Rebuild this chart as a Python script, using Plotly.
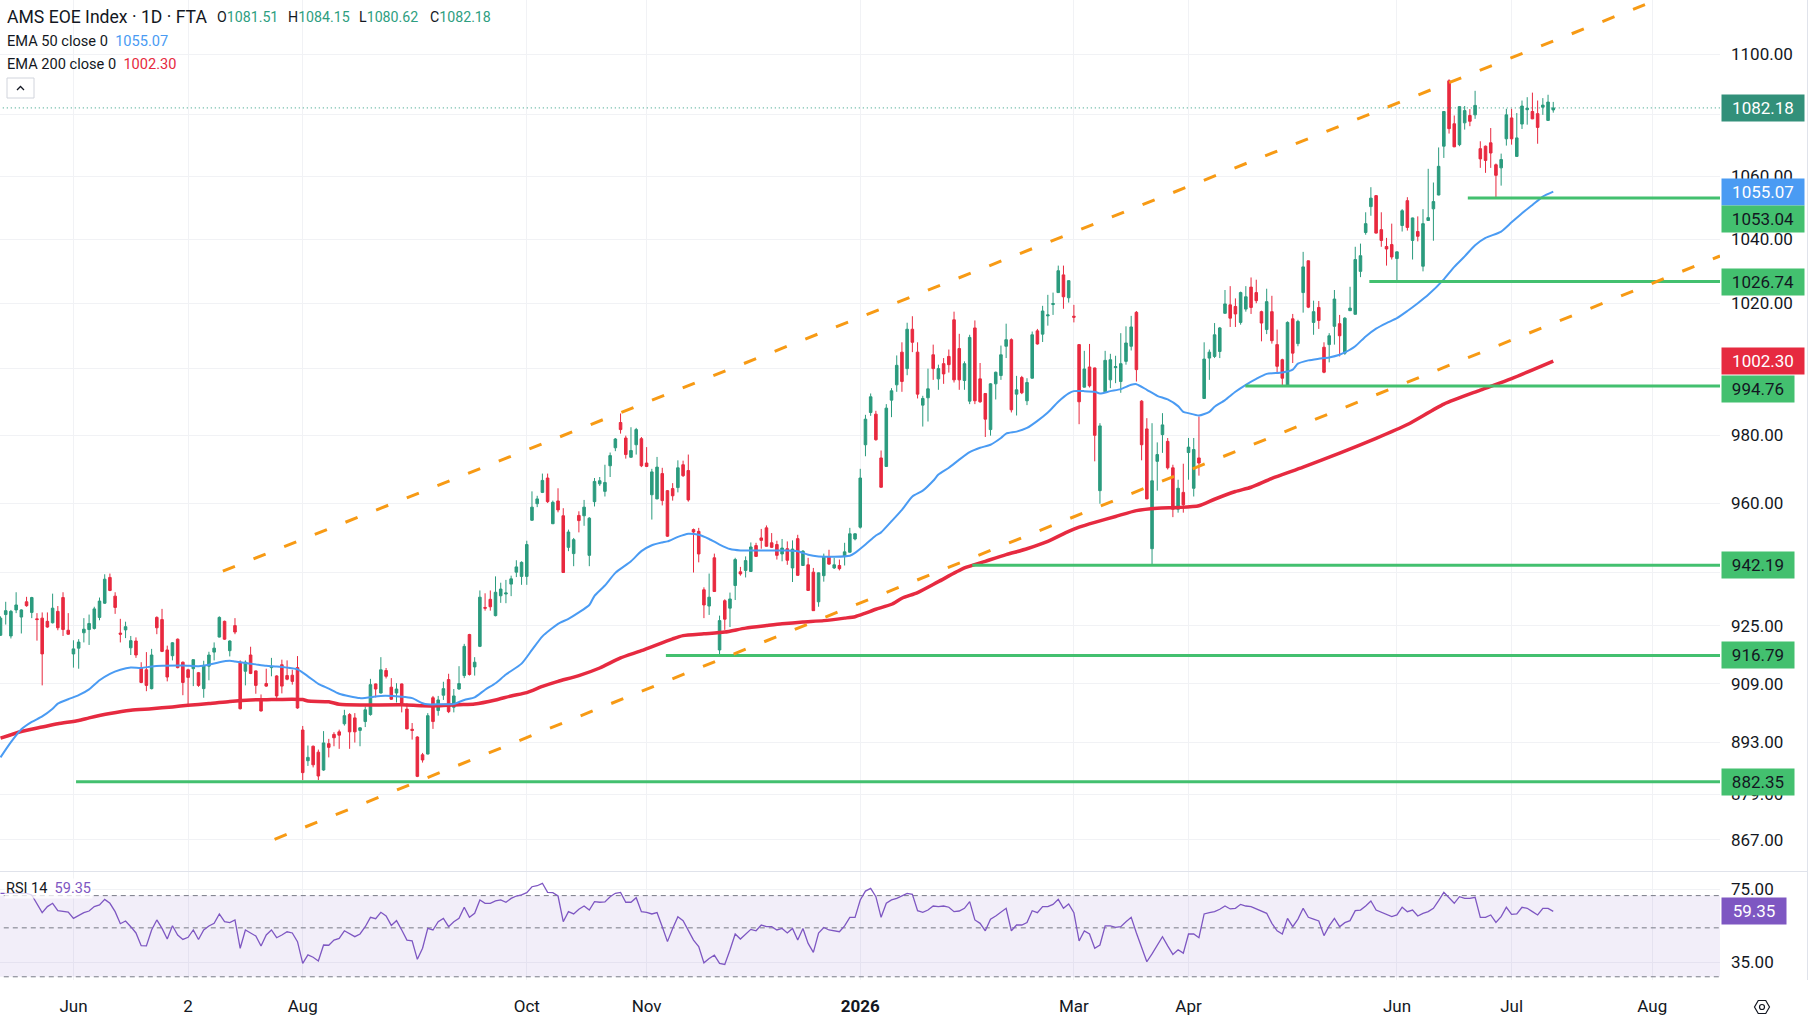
import math
import plotly.graph_objects as go

# ---------------- data ----------------
open_ = [
    922.4, 928.2, 922.2, 929.5, 927.5, 931.8, 928.8, 927.0, 927.2, 926.3,
    925.9, 929.1, 933.0, 923.8, 917.2, 918.8, 923.1, 924.0, 924.3, 927.4,
    931.4, 938.7, 933.4, 923.0, 923.9, 918.9, 920.8, 913.3, 912.8, 907.6,
    927.4, 926.8, 918.3, 916.7, 921.3, 914.9, 912.8, 913.1, 912.0, 907.6,
    913.8, 917.7, 921.9, 926.3, 918.1, 925.1, 914.9, 912.4, 916.9, 912.5,
    904.7, 909.0, 913.4, 911.1, 914.2, 911.2, 911.3, 913.4, 896.3, 888.0,
    891.9, 890.3, 885.5, 892.6, 895.1, 895.8, 898.0, 900.5, 899.6, 896.2,
    898.6, 900.5, 908.9, 906.4, 912.6, 908.0, 906.4, 908.9, 902.0, 896.5,
    894.4, 889.6, 889.8, 905.1, 901.6, 905.8, 910.1, 902.5, 907.5, 911.2,
    922.6, 913.6, 919.3, 930.2, 932.5, 927.9, 933.5, 934.0, 936.8, 940.2,
    939.0, 939.0, 955.1, 959.9, 963.2, 967.4, 954.1, 960.7, 956.4, 947.3,
    945.5, 956.5, 956.4, 945.0, 960.5, 965.7, 963.5, 971.0, 976.3, 983.8,
    979.2, 973.5, 977.2, 979.0, 971.8, 962.5, 961.3, 968.7, 963.7, 964.3,
    964.6, 971.3, 969.6, 952.4, 951.9, 935.2, 930.6, 944.3, 918.3, 932.1,
    930.0, 936.4, 940.3, 940.7, 940.4, 947.8, 950.0, 952.9, 948.6, 948.1,
    945.4, 946.9, 941.4, 949.8, 942.1, 942.3, 940.2, 931.8, 939.2, 944.6,
    941.4, 942.1, 944.7, 945.9, 949.7, 953.1, 977.2, 986.8, 986.3, 973.3,
    970.8, 990.5, 995.1, 1005.0, 1000.0, 1012.0, 1005.0, 989.0, 991.2, 1004.2,
    996.9, 1001.5, 1003.7, 1014.9, 1006.1, 996.4, 990.2, 1012.4, 996.9, 992.5,
    981.7, 995.4, 997.9, 1006.8, 1008.8, 992.3, 997.3, 990.3, 997.1, 1011.5,
    1010.5, 1016.1, 1019.6, 1023.3, 1028.8, 1021.7, 1016.0, 1007.3, 994.4, 1000.5,
    1000.2, 963.7, 993.0, 996.6, 1000.3, 996.1, 1002.2, 1006.8, 1017.2, 990.2,
    981.9, 946.9, 972.3, 980.2, 978.2, 970.4, 958.3, 963.2, 974.9, 964.4,
    973.3, 991.0, 1003.2, 1003.7, 1005.2, 1016.9, 1019.5, 1019.0, 1014.1, 1018.2,
    1025.0, 1023.3, 1017.4, 1011.9, 1017.4, 1007.3, 1002.7, 994.8, 1015.2, 1007.6,
    1023.3, 1033.2, 1014.1, 1018.7, 1006.5, 1007.3, 1012.9, 1013.7, 1004.7, 1017.7,
    1016.6, 1029.9, 1042.1, 1050.3, 1053.8, 1043.0, 1037.7, 1038.3, 1033.9, 1044.3,
    1052.2, 1039.6, 1042.4, 1031.5, 1045.9, 1049.6, 1054.0, 1069.7, 1091.1, 1077.0,
    1070.2, 1077.3, 1079.7, 1079.9, 1068.9, 1069.7, 1070.8, 1063.7, 1062.7, 1072.1,
    1078.9, 1066.4, 1076.9, 1081.6, 1081.0, 1080.3, 1082.4, 1078.1, 1081.51]

high_ = [
    927.7, 931.8, 929.5, 934.5, 929.7, 933.2, 933.2, 928.6, 928.8, 928.8,
    934.1, 930.6, 934.5, 928.6, 921.0, 921.3, 927.2, 928.2, 930.4, 933.0,
    939.6, 939.8, 934.5, 927.0, 926.2, 922.2, 921.8, 914.9, 917.7, 918.6,
    927.7, 929.8, 919.5, 920.5, 921.5, 915.1, 913.1, 915.7, 912.2, 915.3,
    917.8, 920.4, 927.7, 926.5, 921.0, 927.2, 915.4, 915.4, 919.2, 912.6,
    906.0, 913.1, 916.1, 911.3, 915.6, 915.4, 912.8, 916.6, 897.4, 892.1,
    892.1, 891.0, 896.0, 893.9, 895.7, 896.4, 901.8, 900.9, 900.9, 897.0,
    902.7, 910.3, 909.0, 916.3, 913.3, 910.5, 909.1, 909.0, 903.6, 898.2,
    894.6, 890.1, 900.9, 905.6, 905.6, 909.5, 911.7, 907.5, 913.8, 920.0,
    922.8, 916.3, 935.0, 934.2, 935.0, 939.0, 937.2, 938.0, 939.2, 943.6,
    943.3, 949.2, 963.5, 962.2, 968.7, 968.7, 960.8, 964.4, 958.6, 952.4,
    950.0, 957.7, 961.0, 956.0, 967.4, 967.7, 971.3, 974.9, 979.2, 986.5,
    979.9, 982.4, 982.2, 979.5, 976.5, 970.1, 973.6, 970.4, 963.9, 965.9,
    972.6, 972.5, 974.3, 952.7, 952.9, 935.9, 939.8, 945.5, 927.9, 932.5,
    934.4, 944.3, 941.7, 944.7, 948.7, 948.6, 952.6, 953.6, 951.4, 949.2,
    949.7, 949.0, 949.3, 950.9, 946.5, 944.3, 941.4, 940.1, 945.5, 946.6,
    944.3, 943.8, 948.6, 952.9, 951.3, 970.1, 986.1, 992.5, 987.3, 975.5,
    989.3, 994.1, 1004.0, 1008.0, 1014.0, 1016.0, 1008.0, 991.8, 1000.0, 1007.3,
    1001.2, 1003.2, 1005.8, 1017.4, 1010.6, 1002.2, 1010.3, 1014.7, 1001.7, 992.6,
    995.6, 999.1, 1007.0, 1013.7, 1009.2, 997.8, 997.8, 997.1, 1011.3, 1012.1,
    1019.2, 1022.6, 1023.3, 1031.7, 1031.7, 1027.1, 1019.5, 1007.4, 1005.4, 1007.5,
    1000.3, 983.6, 1005.4, 1004.5, 1003.9, 1010.8, 1012.9, 1016.1, 1017.6, 990.5,
    985.1, 983.6, 977.9, 986.6, 979.2, 971.3, 966.9, 971.6, 979.2, 979.2,
    985.6, 1008.0, 1005.8, 1013.9, 1012.7, 1024.1, 1025.3, 1021.5, 1023.6, 1025.3,
    1028.0, 1027.3, 1017.7, 1024.5, 1022.3, 1011.9, 1003.0, 1014.4, 1016.7, 1014.9,
    1036.0, 1033.3, 1020.8, 1020.7, 1008.0, 1010.8, 1024.1, 1016.4, 1015.7, 1025.1,
    1037.6, 1038.6, 1048.5, 1056.5, 1054.0, 1048.5, 1040.4, 1044.9, 1036.1, 1049.5,
    1053.3, 1046.8, 1047.2, 1049.5, 1062.4, 1058.0, 1069.3, 1081.1, 1091.6, 1079.7,
    1082.7, 1082.8, 1081.8, 1087.8, 1071.3, 1069.9, 1075.6, 1064.1, 1067.3, 1081.9,
    1081.9, 1080.5, 1084.6, 1085.7, 1087.2, 1084.6, 1085.4, 1086.5, 1084.15]

low_ = [
    922.2, 925.4, 921.5, 928.6, 922.9, 930.4, 927.2, 920.9, 908.5, 924.5,
    925.7, 923.8, 922.2, 922.5, 913.4, 913.1, 920.4, 919.7, 924.0, 926.6,
    931.2, 934.8, 928.4, 920.4, 921.6, 916.9, 916.1, 909.1, 906.9, 907.4,
    922.7, 917.7, 909.6, 915.4, 913.2, 905.8, 903.1, 908.3, 908.1, 905.1,
    909.9, 915.4, 921.8, 921.1, 916.5, 922.7, 901.9, 908.5, 911.6, 906.2,
    901.3, 908.1, 911.0, 904.2, 906.3, 909.9, 908.7, 902.1, 882.8, 886.6,
    886.2, 882.8, 885.3, 888.9, 891.9, 891.2, 897.5, 891.2, 892.9, 891.9,
    897.1, 900.2, 905.2, 906.3, 910.4, 904.5, 903.8, 901.1, 896.5, 893.7,
    883.6, 887.5, 889.7, 896.6, 900.2, 904.5, 900.9, 901.1, 907.3, 910.5,
    911.2, 911.2, 919.1, 929.3, 929.3, 927.7, 931.5, 931.4, 933.4, 938.8,
    936.6, 936.6, 955.0, 958.9, 963.0, 960.1, 954.0, 957.4, 940.0, 946.2,
    941.9, 951.6, 953.5, 941.9, 959.1, 965.1, 962.0, 967.7, 975.3, 980.5,
    973.1, 973.4, 974.3, 970.6, 970.6, 955.3, 961.2, 959.4, 950.3, 960.8,
    963.2, 967.7, 960.5, 940.1, 943.0, 927.2, 928.1, 934.6, 916.8, 923.9,
    924.7, 932.3, 939.2, 938.7, 940.3, 944.6, 946.9, 947.5, 947.1, 943.8,
    943.3, 942.3, 937.4, 939.2, 942.0, 934.9, 929.2, 930.4, 937.5, 942.3,
    941.1, 940.7, 942.1, 945.8, 949.3, 952.7, 973.8, 985.8, 978.4, 964.6,
    970.7, 985.4, 993.0, 993.0, 998.0, 1005.0, 991.0, 982.6, 984.1, 996.6,
    993.6, 995.4, 998.8, 995.8, 993.6, 993.6, 989.3, 989.3, 989.7, 979.5,
    979.9, 990.7, 996.6, 1003.2, 986.8, 985.9, 992.3, 989.0, 997.0, 1007.3,
    1008.1, 1013.1, 1016.4, 1023.2, 1018.3, 1020.2, 1014.1, 983.3, 994.3, 994.3,
    972.3, 959.9, 992.9, 994.1, 995.6, 992.7, 1001.2, 1005.5, 996.1, 972.6,
    961.2, 942.2, 963.7, 974.8, 969.9, 956.0, 957.3, 957.3, 966.9, 962.0,
    968.1, 990.9, 996.6, 1003.2, 1003.2, 1016.8, 1012.7, 1012.7, 1013.4, 1017.4,
    1016.7, 1020.0, 1008.3, 1010.5, 1007.6, 998.8, 994.8, 994.76, 1001.7, 1006.8,
    1017.1, 1018.5, 1010.3, 1012.1, 998.6, 1001.9, 1007.3, 1003.7, 1004.2, 1017.6,
    1016.5, 1028.1, 1041.4, 1047.4, 1041.8, 1037.6, 1031.7, 1033.6, 1026.74, 1042.4,
    1042.7, 1033.6, 1039.3, 1029.9, 1045.8, 1039.5, 1053.9, 1065.9, 1073.8, 1069.4,
    1069.7, 1075.1, 1076.2, 1078.6, 1062.7, 1061.1, 1062.7, 1053.04, 1057.0, 1069.9,
    1070.2, 1066.3, 1075.3, 1076.7, 1078.5, 1070.5, 1079.9, 1077.9, 1080.62]

close_ = [
    927.2, 929.3, 929.1, 930.9, 929.5, 930.7, 933.0, 926.8, 917.2, 924.7,
    930.0, 924.5, 924.0, 922.7, 918.6, 920.5, 924.1, 925.7, 929.8, 932.0,
    938.2, 935.0, 930.2, 922.7, 924.8, 920.9, 916.9, 909.3, 908.5, 916.9,
    924.5, 917.9, 910.8, 920.3, 913.4, 909.3, 910.7, 915.6, 908.5, 914.0,
    916.9, 918.8, 927.4, 921.3, 920.8, 923.3, 902.1, 914.9, 911.8, 908.5,
    901.5, 908.3, 913.7, 905.6, 908.3, 910.2, 909.6, 902.3, 884.8, 888.9,
    886.9, 883.9, 892.8, 891.6, 894.2, 894.9, 900.2, 895.8, 895.8, 896.9,
    901.8, 908.7, 907.5, 912.8, 911.0, 904.7, 907.5, 903.6, 896.6, 896.2,
    883.8, 888.2, 900.2, 898.6, 904.5, 907.6, 901.3, 905.6, 909.0, 919.3,
    911.5, 914.9, 933.1, 930.0, 930.4, 934.5, 935.4, 934.3, 938.3, 941.7,
    943.0, 948.1, 958.9, 961.3, 966.7, 960.5, 960.3, 958.1, 940.1, 951.7,
    949.5, 955.0, 958.9, 955.7, 966.4, 966.6, 966.1, 974.0, 978.9, 981.7,
    974.3, 975.5, 981.7, 971.0, 970.8, 969.2, 970.6, 960.8, 950.5, 962.2,
    970.4, 968.1, 961.0, 951.7, 945.4, 930.9, 933.1, 934.7, 926.5, 926.9,
    932.6, 943.8, 939.7, 943.5, 947.4, 944.7, 949.3, 947.6, 947.3, 945.0,
    947.1, 943.6, 946.8, 939.3, 946.2, 935.0, 929.3, 940.0, 944.7, 942.5,
    942.3, 941.2, 946.0, 951.2, 951.2, 967.4, 984.8, 991.5, 978.7, 964.7,
    988.1, 993.3, 1001.0, 996.1, 1012.0, 1008.0, 992.3, 991.0, 993.9, 1000.0,
    1000.0, 998.4, 1001.2, 996.6, 996.6, 1001.5, 1009.5, 990.3, 990.0, 984.8,
    995.4, 998.9, 1004.2, 1008.8, 987.6, 993.6, 992.7, 995.8, 1010.3, 1007.5,
    1017.6, 1016.4, 1019.9, 1030.1, 1022.0, 1027.0, 1015.7, 990.0, 999.9, 994.8,
    980.0, 982.8, 1002.5, 1002.7, 1000.6, 1001.5, 1007.8, 1012.7, 999.7, 977.2,
    961.3, 966.6, 974.3, 983.1, 970.4, 958.3, 964.4, 959.6, 976.5, 975.8,
    971.8, 1002.9, 1005.0, 1010.3, 1012.4, 1019.8, 1015.4, 1016.7, 1023.3, 1022.0,
    1018.7, 1020.8, 1013.9, 1020.5, 1008.5, 1000.7, 997.1, 1014.1, 1004.7, 1014.4,
    1031.3, 1018.8, 1017.4, 1014.7, 998.9, 1010.0, 1021.3, 1010.0, 1015.4, 1018.5,
    1033.6, 1034.8, 1044.9, 1053.0, 1041.9, 1039.6, 1036.9, 1034.4, 1036.0, 1049.0,
    1043.7, 1046.7, 1040.9, 1044.9, 1046.8, 1051.9, 1063.2, 1081.0, 1075.4, 1069.5,
    1082.6, 1081.3, 1077.8, 1083.0, 1065.6, 1065.1, 1067.5, 1060.3, 1065.4, 1079.9,
    1072.1, 1072.4, 1082.8, 1082.1, 1078.6, 1075.8, 1083.1, 1084.1, 1082.18]

# EMA 50 / EMA 200 (bar number, value)
ema50_bar = [0, 2, 4, 6, 8, 10, 11, 13, 15, 17, 19, 21, 23, 25, 27, 29, 31, 35, 38, 40,
             42, 44, 45, 47, 49, 51, 53, 55, 57, 59, 61, 63, 65, 69, 73, 77, 79, 81, 82, 84,
             87, 89, 91, 93, 95, 97, 100, 102, 104, 107, 109, 111, 113, 114, 116, 118, 121, 123, 125, 127,
             128, 130, 132, 134, 136, 138, 140, 142, 148, 151, 153, 155, 157, 160, 163, 164, 166, 168, 169, 171,
             173, 175, 177, 179, 180, 182, 184, 186, 188, 190, 192, 193, 195, 197, 199, 201, 203, 205, 206, 208,
             210, 211, 213, 215, 217, 218, 220, 222, 224, 226, 227, 228, 230, 232, 233, 235, 237, 239, 241, 243,
             246, 248, 249, 251, 253, 255, 257, 258, 260, 262, 264, 266, 268, 270, 272, 274, 277, 279, 281, 283,
             285, 288, 290, 292, 294, 296, 298]
ema50_val = [888.9, 893.0, 896.5, 898.5, 900.0, 902.1, 903.5, 904.7, 905.8, 907.4, 909.9, 911.7, 912.8, 913.4, 913.3, 913.7, 913.9, 914.0, 913.8, 914.2,
             914.9, 915.3, 915.1, 914.7, 914.3, 913.9, 913.7, 913.4, 912.9, 911.0, 908.9, 907.6, 906.2, 905.0, 905.6, 905.4, 905.0, 903.6, 903.3, 903.3,
             903.4, 904.5, 905.2, 907.3, 909.1, 911.5, 914.5, 918.3, 922.1, 925.6, 927.0, 928.8, 930.9, 933.5, 936.4, 940.0, 943.3, 946.2, 947.9, 948.7,
             949.0, 950.3, 951.2, 950.9, 949.7, 948.1, 946.8, 946.4, 946.4, 946.4, 946.2, 945.2, 944.7, 944.6, 944.9, 945.7, 948.1, 950.7, 951.6, 954.8,
             958.1, 962.0, 963.7, 966.6, 968.4, 970.4, 972.8, 975.0, 976.3, 977.2, 979.2, 980.5, 981.1, 982.2, 984.3, 986.8, 990.0, 992.5, 993.2, 993.2,
             993.0, 992.5, 993.2, 993.8, 995.1, 995.3, 993.6, 991.8, 990.7, 988.7, 987.0, 986.6, 985.9, 987.0, 988.5, 990.5, 993.0, 995.1, 996.9, 998.4,
             998.8, 999.7, 1001.5, 1002.5, 1003.0, 1003.4, 1004.2, 1004.9, 1006.8, 1009.8, 1012.2, 1013.9, 1015.4, 1017.6, 1020.0, 1022.6, 1027.4, 1031.3, 1034.6, 1038.1,
             1040.4, 1042.4, 1045.3, 1048.2, 1050.8, 1053.5, 1055.07]

ema200_bar = [0, 4, 8, 11, 15, 17, 21, 25, 29, 33, 36, 40, 44, 48, 52, 56, 58, 59, 63, 65,
              69, 77, 81, 84, 88, 91, 95, 98, 101, 104, 107, 111, 115, 119, 123, 129, 131, 135, 139, 143,
              147, 150, 154, 158, 162, 164, 166, 168, 171, 173, 176, 180, 185, 189, 193, 197, 201, 205, 207, 210,
              214, 218, 222, 226, 230, 233, 237, 240, 244, 250, 257, 264, 270, 277, 284, 290, 298]
ema200_val = [894.1, 895.9, 897.1, 898.0, 898.9, 899.6, 900.8, 901.7, 902.1, 902.6, 903.05, 903.5, 904.1, 904.5, 904.6, 904.7, 904.6, 904.2, 904.0, 903.3,
              903.1, 903.2, 902.9, 902.9, 903.2, 903.4, 904.5, 905.6, 906.5, 908.2, 909.6, 911.2, 913.3, 916.1, 918.1, 921.4, 922.3, 922.8, 923.3, 924.4,
              925.1, 925.6, 926.1, 926.5, 927.2, 927.6, 928.6, 929.7, 931.1, 932.8, 934.4, 937.5, 941.4, 943.3, 945.2, 946.9, 949.0, 951.9, 953.1, 954.5,
              956.2, 957.9, 958.6, 958.8, 959.3, 961.2, 963.45, 964.7, 967.3, 970.6, 974.7, 979.1, 983.2, 989.3, 993.5, 997.0, 1002.3]

rsi = [
    71.7, 71.7, 71.7, 71.4, 71.4, 71.7, 70.5, 64.6, 58.6, 62.4,
    64.6, 59.8, 59.6, 59.0, 55.2, 56.8, 58.6, 59.6, 62.4, 63.5,
    67.3, 64.6, 59.2, 52.2, 53.7, 50.6, 47.4, 41.5, 41.4, 48.9,
    54.3, 49.7, 44.5, 51.1, 46.4, 44.3, 45.3, 48.9, 44.3, 48.9,
    51.0, 52.4, 57.8, 53.3, 52.8, 54.3, 40.4, 48.9, 47.4, 45.9,
    41.4, 46.4, 48.9, 45.1, 46.4, 48.0, 47.4, 43.3, 34.5, 37.7,
    36.8, 35.4, 41.8, 41.7, 44.0, 44.8, 48.5, 46.9, 45.6, 46.9,
    50.6, 55.8, 55.0, 58.8, 56.6, 51.3, 53.9, 48.9, 44.0, 43.7,
    36.0, 40.4, 49.7, 48.9, 53.3, 55.2, 50.6, 53.3, 55.2, 62.0,
    55.8, 58.2, 66.9, 64.6, 64.6, 66.2, 66.9, 65.3, 68.0, 69.7,
    70.5, 72.2, 76.8, 77.6, 79.6, 72.4, 72.2, 69.7, 53.3, 59.2,
    57.8, 60.7, 62.8, 60.2, 65.7, 65.3, 65.5, 69.2, 71.7, 72.4,
    65.3, 65.3, 68.5, 59.2, 58.8, 57.8, 58.6, 50.6, 43.3, 49.7,
    56.2, 53.9, 48.9, 44.0, 41.1, 34.7, 36.3, 37.6, 34.5, 34.1,
    39.7, 46.9, 44.5, 46.9, 49.2, 48.5, 51.5, 50.6, 50.6, 48.9,
    49.7, 47.4, 49.7, 44.0, 49.7, 42.5, 38.7, 47.4, 50.2, 48.9,
    48.5, 48.0, 51.0, 55.8, 55.8, 66.9, 73.4, 75.5, 69.2, 55.8,
    64.6, 66.9, 68.0, 69.7, 71.7, 70.9, 59.8, 58.8, 60.2, 62.8,
    62.4, 62.8, 62.0, 59.2, 59.6, 61.3, 65.7, 54.3, 52.4, 48.5,
    54.7, 56.6, 59.2, 61.3, 48.5, 51.5, 51.5, 52.8, 59.8, 58.6,
    62.4, 62.4, 63.9, 67.3, 61.3, 64.2, 58.6, 43.6, 48.4, 46.9,
    40.4, 41.8, 51.0, 51.0, 50.2, 50.6, 53.3, 55.8, 47.4, 40.8,
    35.1, 38.1, 41.8, 45.6, 41.4, 37.9, 39.8, 38.4, 46.9, 46.9,
    45.1, 57.8, 58.6, 59.2, 60.7, 62.8, 60.9, 61.3, 63.9, 62.8,
    62.4, 60.9, 59.6, 58.2, 52.4, 48.5, 46.9, 55.2, 50.6, 54.8,
    61.3, 55.8, 54.8, 53.7, 46.1, 51.0, 55.2, 50.6, 52.8, 53.9,
    59.8, 60.2, 62.8, 66.2, 60.2, 58.8, 57.8, 56.2, 57.2, 62.0,
    59.2, 60.2, 56.6, 58.2, 59.2, 61.3, 66.4, 72.4, 68.5, 64.6,
    69.2, 68.0, 68.0, 68.8, 55.8, 55.8, 57.2, 52.9, 56.2, 62.0,
    57.6, 57.8, 62.0, 61.3, 59.2, 57.2, 61.3, 61.3, 59.35]

# horizontal support levels: (value, first bar)
level_vals = [1053.04, 1026.74, 994.76, 942.19, 916.79, 882.35]
level_start = [281.6, 262.7, 238.9, 186.5, 127.7, 14.5]

# trend channel drawings: (bar, value) endpoints
chan_upper_bar = [42.67, 315.6]
chan_upper_val = [940.5, 1116.6]
chan_lower_bar = [52.6, 330.0]
chan_lower_val = [867.1, 1034.7]

# axis ticks (labels hidden where the reference covers them with a price tag)
price_ticks = [1100, 1080, 1060, 1040, 1020, 1000, 980, 960, 940, 925, 909, 893, 879, 867]
price_tick_text = ["1100.00", "", "1060.00", "1040.00", "1020.00", "", "980.00", "960.00", "",
                   "925.00", "909.00", "893.00", "879.00", "867.00"]
rsi_ticks = [75, 35]
month_pos = [14, 36, 58, 101, 124, 165, 206, 228, 268, 290, 317]
month_lbl = ["Jun", "2", "Aug", "Oct", "Nov", "<b>2026</b>", "Mar", "Apr", "Jun", "Jul", "Aug"]

last_o, last_h, last_l, last_c = 1081.51, 1084.15, 1080.62, 1082.18
ema50_last, ema200_last, rsi_last = 1055.07, 1002.30, 59.35

# ---------------- styling ----------------
W, H = 1810, 1025
PR, PB = 1720, 980
UP, DN = "#2b9b7e", "#e8293f"
BLUE, RED, GREEN, ORANGE, PURPLE = "#4a9bf3", "#e62a40", "#43c06f", "#f79a14", "#7e57c2"
TXT = "#131722"
GRID = "#f1f2f5"
FONT = "Roboto"
XR = [-0.096, 330.0]


def fx(px):
    return px / PR


def fy(py):
    return (PB - py) / PB


N = len(close_)
bars = list(range(N))

fig = go.Figure()

fig.add_trace(go.Candlestick(
    x=bars, open=open_, high=high_, low=low_, close=close_,
    increasing=dict(line=dict(color=UP, width=1), fillcolor=UP),
    decreasing=dict(line=dict(color=DN, width=1), fillcolor=DN),
    whiskerwidth=0, showlegend=False, hoverinfo="skip", xaxis="x", yaxis="y"))

fig.add_trace(go.Scatter(x=ema200_bar, y=ema200_val, mode="lines",
                         line=dict(color=RED, width=3.5, shape="spline", smoothing=0.6),
                         showlegend=False, hoverinfo="skip", xaxis="x", yaxis="y"))
fig.add_trace(go.Scatter(x=ema50_bar, y=ema50_val, mode="lines",
                         line=dict(color=BLUE, width=2, shape="spline", smoothing=0.6),
                         showlegend=False, hoverinfo="skip", xaxis="x", yaxis="y"))

for v, s in zip(level_vals, level_start):
    fig.add_trace(go.Scatter(x=[s, XR[1] + 1], y=[v, v], mode="lines",
                             line=dict(color=GREEN, width=3), showlegend=False,
                             hoverinfo="skip", xaxis="x", yaxis="y"))

for bx, by in ((chan_upper_bar, chan_upper_val), (chan_lower_bar, chan_lower_val)):
    fig.add_trace(go.Scatter(x=bx, y=by, mode="lines",
                             line=dict(color=ORANGE, width=3, dash="13px,20px"),
                             showlegend=False, hoverinfo="skip", xaxis="x", yaxis="y"))

fig.add_trace(go.Scatter(x=[XR[0] - 1, XR[1] + 1], y=[last_c, last_c], mode="lines",
                         line=dict(color=UP, width=1, dash="1px,3px"), showlegend=False,
                         hoverinfo="skip", xaxis="x", yaxis="y"))

# RSI pane
fig.add_trace(go.Scatter(x=[XR[0] - 1, XR[1] + 1], y=[70, 70], mode="lines",
                         line=dict(width=0), showlegend=False, hoverinfo="skip",
                         xaxis="x2", yaxis="y2"))
fig.add_trace(go.Scatter(x=[XR[0] - 1, XR[1] + 1], y=[30, 30], mode="lines",
                         line=dict(width=0), fill="tonexty", fillcolor="rgba(126,87,194,0.10)",
                         showlegend=False, hoverinfo="skip", xaxis="x2", yaxis="y2"))
for lv in (70, 50, 30):
    fig.add_trace(go.Scatter(x=[XR[0] - 1, XR[1] + 1], y=[lv, lv], mode="lines",
                             line=dict(color="#787b86", width=1, dash="5px,4px"),
                             showlegend=False, hoverinfo="skip", xaxis="x2", yaxis="y2"))
fig.add_trace(go.Scatter(x=bars, y=rsi, mode="lines", line=dict(color=PURPLE, width=1.3),
                         showlegend=False, hoverinfo="skip", xaxis="x2", yaxis="y2"))

# ---------------- annotations ----------------
ann = []


def box(val, text, bg, fg, width, yref="y", yshift=0):
    ann.append(dict(xref="paper", yref=yref, x=fx(1721), y=math.log10(val),
                    xanchor="left", yanchor="middle", text=text, showarrow=False,
                    font=dict(family=FONT, size=17, color=fg), bgcolor=bg,
                    width=width, height=26, borderpad=0, align="center", yshift=yshift))


box(last_c, f"{last_c:.2f}", "#32907a", "#ffffff", 82)
box(ema50_last, f"{ema50_last:.2f}", BLUE, "#ffffff", 82)
box(level_vals[0], f"{level_vals[0]:.2f}", GREEN, TXT, 82, yshift=-21)
box(level_vals[1], f"{level_vals[1]:.2f}", GREEN, TXT, 82)
box(ema200_last, f"{ema200_last:.2f}", RED, "#ffffff", 82)
box(level_vals[2], f"{level_vals[2]:.2f}", GREEN, TXT, 72, yshift=-3)
box(level_vals[3], f"{level_vals[3]:.2f}", GREEN, TXT, 72)
box(level_vals[4], f"{level_vals[4]:.2f}", GREEN, TXT, 72)
box(level_vals[5], f"{level_vals[5]:.2f}", GREEN, TXT, 72)
box(rsi_last, f"{rsi_last:.2f}", PURPLE, "#ffffff", 64, yref="y2")


def txt(px, py, text, size, color=TXT):
    ann.append(dict(xref="paper", yref="paper", x=fx(px), y=fy(py), xanchor="left",
                    yanchor="middle", text=text, showarrow=False,
                    font=dict(family=FONT, size=size, color=color)))


txt(5, 17, "AMS EOE Index · 1D · FTA", 17.6)
vc = "#2e9e80"
for px, lab, val in ((215, "O", last_o), (286, "H", last_h), (357, "L", last_l), (428, "C", last_c)):
    txt(px, 17, f"{lab}<span style='color:{vc}'>{val:.2f}</span>", 14.2)
txt(5, 41, f"EMA 50 close 0  <span style='color:{BLUE}'>{ema50_last:.2f}</span>", 14.6)
txt(5, 64, f"EMA 200 close 0  <span style='color:{RED}'>{ema200_last:.2f}</span>", 14.6)
ann.append(dict(xref="paper", yref="paper", x=fx(4), y=fy(888), xanchor="left", yanchor="middle",
                text=f"RSI 14  <span style='color:{PURPLE}'>{rsi_last:.2f}</span>", showarrow=False,
                font=dict(family=FONT, size=14.5, color=TXT), bgcolor="rgba(255,255,255,0.75)"))

# ---------------- shapes ----------------
shapes = []
shapes.append(dict(type="line", xref="paper", yref="paper", x0=0, x1=fx(1808), y0=fy(871.5), y1=fy(871.5),
                   line=dict(color="#e0e3eb", width=1)))
shapes.append(dict(type="line", xref="paper", yref="paper", x0=fx(1807.5), x1=fx(1807.5), y0=fy(0), y1=fy(980),
                   line=dict(color="#e0e3eb", width=1)))
shapes.append(dict(type="rect", xref="paper", yref="paper", x0=fx(7), x1=fx(34), y0=fy(78), y1=fy(98),
                   line=dict(color="#d1d4dc", width=1), fillcolor="#ffffff"))
shapes.append(dict(type="path", xref="paper", yref="paper",
                   path=f"M {fx(17)} {fy(90)} L {fx(20.5)} {fy(86.5)} L {fx(24)} {fy(90)}",
                   line=dict(color=TXT, width=1.3)))
cx, cy, r = 1762, 1007, 7.5
pts = []
for k in range(6):
    a = math.radians(60 * k)
    pts.append((cx + r * math.cos(a), cy + r * math.sin(a)))
path = "M " + " L ".join(f"{fx(px)} {fy(py)}" for px, py in pts) + " Z"
shapes.append(dict(type="path", xref="paper", yref="paper", path=path, line=dict(color=TXT, width=1.2)))
shapes.append(dict(type="circle", xref="paper", yref="paper", x0=fx(cx - 2.5), x1=fx(cx + 2.5),
                   y0=fy(cy + 2.5), y1=fy(cy - 2.5), line=dict(color=TXT, width=1.2)))

# ---------------- layout ----------------
main_lo, main_hi = 2.933904, 3.048497
rsi_lo, rsi_hi = 1.46255, 1.952124

fig.update_layout(
    width=W, height=H,
    margin=dict(l=0, r=W - PR, t=0, b=H - PB),
    paper_bgcolor="#ffffff", plot_bgcolor="#ffffff",
    showlegend=False, hovermode=False,
    font=dict(family=FONT, color=TXT),
    xaxis=dict(domain=[0, 1], range=XR, anchor="y", tickmode="array", tickvals=month_pos,
               showticklabels=False, showgrid=True, gridcolor=GRID, zeroline=False, showline=False,
               ticks="", rangeslider=dict(visible=False), fixedrange=True),
    xaxis2=dict(domain=[0, 1], range=XR, anchor="y2", tickmode="array", tickvals=month_pos,
                ticktext=month_lbl, showticklabels=True, showgrid=True, gridcolor=GRID,
                zeroline=False, showline=False, ticks="", tickfont=dict(family=FONT, size=17, color=TXT),
                ticklabelstandoff=14, fixedrange=True),
    yaxis=dict(domain=[109 / PB, 1], type="log", range=[main_lo, main_hi], side="right", anchor="x",
               tickmode="array", tickvals=price_ticks, ticktext=price_tick_text,
               showgrid=True, gridcolor=GRID, zeroline=False, showline=False, ticks="",
               tickfont=dict(family=FONT, size=17, color=TXT), ticklabelstandoff=10, fixedrange=True),
    yaxis2=dict(domain=[0, 108 / PB], type="log", range=[rsi_lo, rsi_hi], side="right", anchor="x2",
                tickmode="array", tickvals=rsi_ticks, ticktext=[f"{v:.2f}" for v in rsi_ticks],
                showgrid=True, gridcolor=GRID, zeroline=False, showline=False, ticks="",
                tickfont=dict(family=FONT, size=17, color=TXT), ticklabelstandoff=10, fixedrange=True),
    annotations=ann,
    shapes=shapes,
)

fig.write_html("out.html")
